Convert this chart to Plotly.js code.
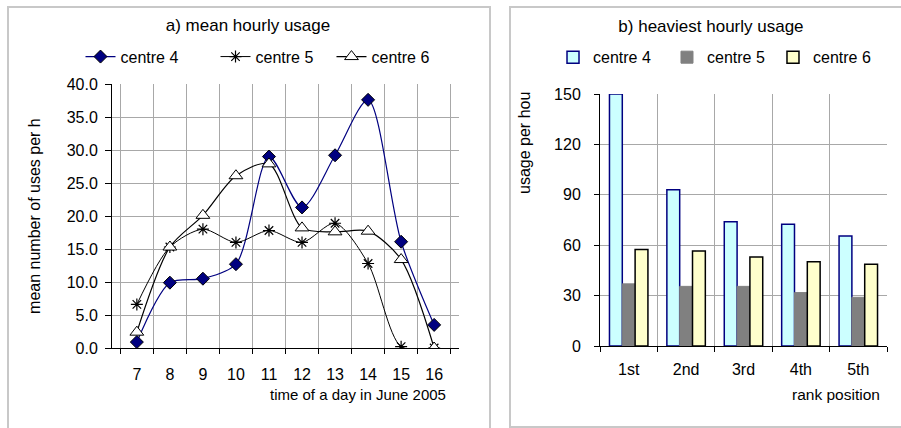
<!DOCTYPE html>
<html>
<head>
<meta charset="utf-8">
<script src="https://cdn.plot.ly/plotly-3.0.1.min.js"></script>
<style>
  html, body { margin: 0; padding: 0; background: #ffffff; }
  body { width: 901px; height: 428px; position: relative; overflow: hidden; }
  .panel { position: absolute; }
  .frame { position: absolute; box-sizing: border-box; border: 2px solid #c8c8c8; pointer-events: none; }
</style>
</head>
<body>
<div id="chartA" class="panel" style="left:7px; top:7px; width:482px; height:421px;"></div>
<div class="frame" style="left:7px; top:6px; width:484px; height:440px;"></div>
<div id="chartB" class="panel" style="left:510px; top:7px; width:391px; height:419px;"></div>
<div class="frame" style="left:509px; top:6px; width:420px; height:422px;"></div>
<script>
// ---------- data: a) mean hourly usage ----------
const hours = ['7', '8', '9', '10', '11', '12', '13', '14', '15', '16'];
const centre4Mean = [0.9, 9.9, 10.5, 12.7, 29.0, 21.3, 29.2, 37.6, 16.1, 3.5];
const centre5Mean = [6.6, 15.3, 18.0, 16.0, 17.8, 16.0, 18.9, 12.8, 0.2, 0.0];
const centre6Mean = [2.4, 15.3, 20.1, 26.1, 27.9, 18.2, 17.6, 17.7, 13.4, 0.0];

// ---------- data: b) heaviest hourly usage ----------
const ranks = ['1st', '2nd', '3rd', '4th', '5th'];
const centre4Heavy = [150, 93, 74, 72.5, 65.5];
const centre5Heavy = [37, 35.5, 35.5, 31.8, 29];
const centre6Heavy = [57.4, 56.5, 53, 50.2, 48.6];

const seriesNames = ['centre 4', 'centre 5', 'centre 6'];

const FONT = 'Liberation Sans, Arial, sans-serif';
const GRID = '#a8a8a8';

function legendAt(xFrac, yFrac) {
  return { orientation: 'h', xref: 'container', yref: 'container', x: xFrac, xanchor: 'left',
           y: yFrac, yanchor: 'middle', font: { family: FONT, size: 16 },
           bgcolor: 'rgba(0,0,0,0)', borderwidth: 0 };
}

// ---------- chart A ----------
const tracesA = [
  {
    x: hours, y: centre4Mean, name: seriesNames[0], type: 'scatter', mode: 'lines+markers', legend: 'legend',
    line: { color: '#000080', width: 1.2, shape: 'spline', smoothing: 0.8 },
    marker: { symbol: 'diamond', size: 10, color: '#000080', line: { color: '#000000', width: 1 } }
  },
  {
    x: hours, y: centre5Mean, name: seriesNames[1], type: 'scatter', mode: 'lines+markers', legend: 'legend2',
    line: { color: '#000000', width: 1, shape: 'spline', smoothing: 0.8 },
    marker: { symbol: 'asterisk-open', size: 10, color: '#000000', line: { color: '#000000', width: 1.2 } }
  },
  {
    x: hours, y: centre6Mean, name: seriesNames[2], type: 'scatter', mode: 'lines+markers', legend: 'legend3',
    line: { color: '#000000', width: 1.2, shape: 'spline', smoothing: 0.8 },
    marker: { symbol: 'triangle-up', size: 12, color: '#ffffff', line: { color: '#000000', width: 1 } }
  }
];

const layoutA = {
  width: 482, height: 421,
  margin: { l: 105, r: 30, t: 77, b: 80 },
  paper_bgcolor: '#ffffff', plot_bgcolor: '#ffffff',
  font: { family: FONT, size: 16, color: '#000000' },
  title: { text: 'a) mean hourly usage', x: 0.5, xanchor: 'center', xref: 'container',
           y: 0.958, yanchor: 'middle', yref: 'container', font: { family: FONT, size: 17 } },
  showlegend: true,
  legend: legendAt(0.1525, 0.882),
  legend2: legendAt(0.4326, 0.882),
  legend3: legendAt(0.6732, 0.882),
  xaxis: {
    type: 'category', categoryorder: 'array', categoryarray: hours,
    tickson: 'boundaries', showgrid: true, gridcolor: GRID, gridwidth: 1,
    ticks: 'outside', ticklen: 5, tickcolor: '#000000',
    showline: true, linecolor: '#000000', linewidth: 1,
    ticklabelstandoff: 12, tickfont: { size: 16 }, zeroline: false, fixedrange: true
  },
  yaxis: {
    range: [0, 40], dtick: 5, tick0: 0, tickformat: '.1f',
    showgrid: true, gridcolor: GRID, gridwidth: 1,
    ticks: 'outside', ticklen: 6, tickcolor: '#000000',
    showline: true, linecolor: '#000000', linewidth: 1, zeroline: false,
    ticklabelstandoff: 4, tickfont: { size: 16 }, fixedrange: true
  },
  annotations: [
    { text: 'mean number of uses per h', xref: 'paper', yref: 'paper', x: -0.225, y: 0.5,
      textangle: -90, showarrow: false, xanchor: 'center', yanchor: 'middle', font: { size: 16 } },
    { text: 'time of a day in June 2005', xref: 'paper', yref: 'paper', x: 0.968, y: -0.178,
      showarrow: false, xanchor: 'right', yanchor: 'middle', font: { size: 15 } }
  ]
};

// ---------- chart B ----------
const tracesB = [
  { x: ranks, y: centre4Heavy, name: seriesNames[0], type: 'bar', legend: 'legend',
    marker: { color: '#ccffff', line: { color: '#000080', width: 1.5 } } },
  { x: ranks, y: centre5Heavy, name: seriesNames[1], type: 'bar', legend: 'legend2',
    marker: { color: '#808080', line: { color: '#808080', width: 1 } } },
  { x: ranks, y: centre6Heavy, name: seriesNames[2], type: 'bar', legend: 'legend3',
    marker: { color: '#ffffcc', line: { color: '#000000', width: 1.5 } } }
];

const layoutB = {
  width: 391, height: 419,
  margin: { l: 90, r: 14, t: 87, b: 80 },
  paper_bgcolor: '#ffffff', plot_bgcolor: '#ffffff',
  font: { family: FONT, size: 16, color: '#000000' },
  title: { text: 'b) heaviest hourly usage', x: 0.514, xanchor: 'center', xref: 'container',
           y: 0.955, yanchor: 'middle', yref: 'container', font: { family: FONT, size: 17 } },
  barmode: 'group', bargap: 0.33, bargroupgap: 0,
  showlegend: true,
  legend: legendAt(0.110, 0.880),
  legend2: legendAt(0.4015, 0.880),
  legend3: legendAt(0.6726, 0.880),
  xaxis: {
    type: 'category', categoryorder: 'array', categoryarray: ranks,
    tickson: 'boundaries', showgrid: true, gridcolor: GRID, gridwidth: 1,
    ticks: 'outside', ticklen: 5, tickcolor: '#000000',
    showline: true, linecolor: '#000000', linewidth: 1,
    ticklabelstandoff: 9, tickfont: { size: 16 }, zeroline: false, fixedrange: true
  },
  yaxis: {
    range: [0, 150], dtick: 30, tick0: 0,
    showgrid: true, gridcolor: GRID, gridwidth: 1,
    ticks: 'outside', ticklen: 5, tickcolor: '#000000',
    showline: true, linecolor: '#000000', linewidth: 1, zeroline: false,
    ticklabelstandoff: 10, tickfont: { size: 16 }, fixedrange: true
  },
  annotations: [
    { text: 'usage per hou', xref: 'paper', yref: 'paper', x: -0.261, y: 0.806,
      textangle: -90, showarrow: false, xanchor: 'center', yanchor: 'middle', font: { size: 16 } },
    { text: 'rank position', xref: 'paper', yref: 'paper', x: 0.983, y: -0.194,
      showarrow: false, xanchor: 'right', yanchor: 'middle', font: { size: 15.5 } }
  ]
};

const cfg = { staticPlot: true, displayModeBar: false, responsive: false };
Plotly.newPlot('chartA', tracesA, layoutA, cfg);
Plotly.newPlot('chartB', tracesB, layoutB, cfg);
</script>
</body>
</html>
